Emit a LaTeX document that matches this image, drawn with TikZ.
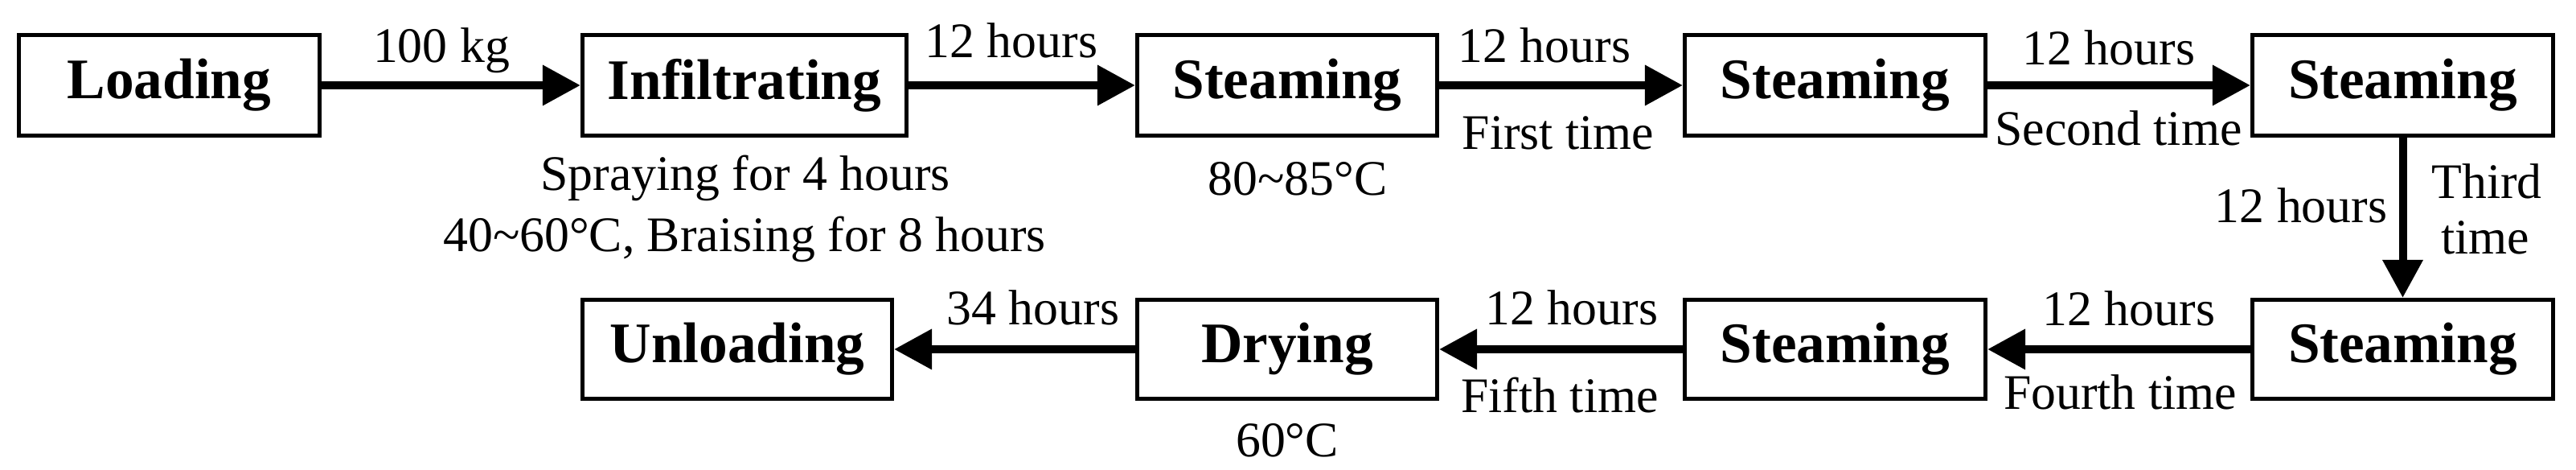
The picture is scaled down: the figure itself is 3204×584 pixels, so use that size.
\documentclass[tikz,border=0pt]{standalone}
\usepackage{fontspec}
\setmainfont{Liberation Serif}
\usetikzlibrary{arrows.meta}
\begin{document}
\begin{tikzpicture}[x=0.2105pt,y=-0.2105pt,
  box/.style={draw, line width=1.05pt, inner sep=0pt, font=\fontsize{15}{17}\selectfont\bfseries},
  bx/.style={box, minimum width={(#1-5)*0.2105pt}},
  rowa/.style={minimum height={125*0.2105pt}},
  rowb/.style={minimum height={123*0.2105pt}},
  arr/.style={line width=2.1pt, -{Triangle[length=9.9pt,width=10.1pt]}},
  lab/.style={font=\fontsize{13}{15}\selectfont, anchor=base, inner sep=0pt}]
\fill[white] (0,0) rectangle (3204,584);
\useasboundingbox (0,0) rectangle (3204,584);
% boxes
\node[bx=379, rowa] (load) at (210.5,106) {Loading};
\node[bx=408, rowa] (infil) at (926,106) {Infiltrating};
\node[bx=378, rowa] (st1) at (1601,106) {Steaming};
\node[bx=379, rowa] (st2) at (2282.5,106) {Steaming};
\node[bx=379, rowa] (st3) at (2988.5,106) {Steaming};
\node[bx=379, rowb] (st4) at (2988.5,434) {Steaming};
\node[bx=379, rowb] (st5) at (2282.5,434) {Steaming};
\node[bx=378, rowb] (dry) at (1601,434) {Drying};
\node[bx=390, rowb] (unload) at (917,434) {Unloading};
% connectors
\draw[arr] (load) -- (infil);
\draw[arr] (infil) -- (st1);
\draw[arr] (st1) -- (st2);
\draw[arr] (st2) -- (st3);
\draw[arr] (st3) -- (st4);
\draw[arr] (st4) -- (st5);
\draw[arr] (st5) -- (dry);
\draw[arr] (dry) -- (unload);
% labels
\node[lab] (l100) at (549,78) {100 kg};
\node[lab] (h1) at (1258,72) {12 hours};
\node[lab] (h2) at (1921,78) {12 hours};
\node[lab] (t1) at (1938,185) {First time};
\node[lab] (h3) at (2623,80) {12 hours};
\node[lab] (t2) at (2635,180) {Second time};
\node[lab] (sp1) at (927,236) {Spraying for 4 hours};
\node[lab] (sp2) at (926,312) {40\textasciitilde 60°C, Braising for 8 hours};
\node[lab] (c1) at (1614,242) {80\textasciitilde 85°C};
\node[lab] (h4) at (2862,276) {12 hours};
\node[lab] (t3a) at (3093,246) {Third};
\node[lab] (t3b) at (3091,315) {time};
\node[lab] (h5) at (2648,404) {12 hours};
\node[lab] (t4) at (2637,508) {Fourth time};
\node[lab] (h6) at (1955,403) {12 hours};
\node[lab] (t5) at (1940,512) {Fifth time};
\node[lab] (h7) at (1285,403) {34 hours};
\node[lab] (c2) at (1601,567) {60°C};
\end{tikzpicture}
\end{document}
